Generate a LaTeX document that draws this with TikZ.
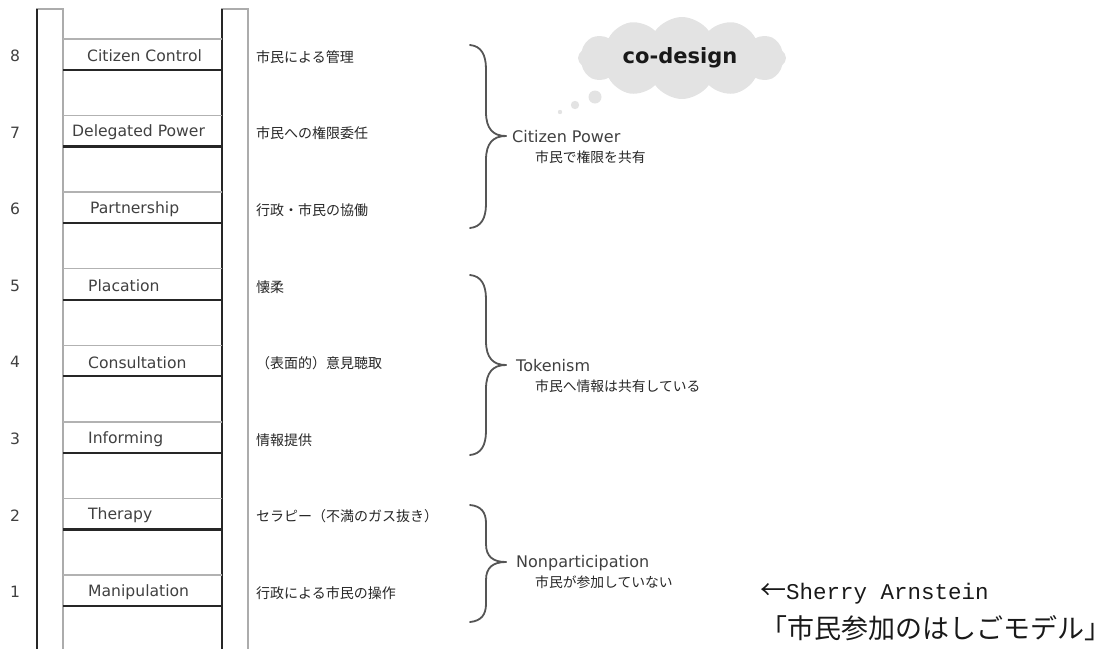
\documentclass[tikz,border=0pt]{standalone}
\usepackage{fontspec}
\setmainfont{DejaVu Sans}
\newfontfamily\jp{Noto Sans CJK JP}
\newfontfamily\monof{Liberation Mono}
\usetikzlibrary{shapes.symbols}
\definecolor{cloudgray}{HTML}{E3E3E3}
\definecolor{bracegray}{HTML}{555555}
\newcommand\ladderbrace[4]{%
  \draw[bracestyle] (470,#1) .. controls (481,{#1+1}) and (486,{#1+#4*0.4}) .. (486,{#1+#4})
    -- (486,{#2-#4}) .. controls (486,{#2-#4*0.3}) and (493,#2) .. (506,#2);
  \draw[bracestyle] (506,#2) .. controls (493,#2) and (486,{#2+#4*0.3}) .. (486,{#2+#4})
    -- (486,{#3-#4}) .. controls (486,{#3-#4*0.4}) and (481,{#3-1}) .. (470,#3);}
\begin{document}
\begin{tikzpicture}[x=1pt,y=-1pt,
  rail/.style={draw=gray!65, line width=1.3pt},
  darkrail/.style={draw=black!85, line width=2pt},
  rungtop/.style={draw=gray!60, line width=1.5pt},
  rungbot/.style={draw=black!85, line width=2.2pt},
  en/.style={font=\fontsize{15.6}{18}\selectfont, text=black!75, inner sep=0},
  ja/.style={font=\jp\fontsize{14}{16}\selectfont, text=black!85, anchor=west, inner sep=0},
  jasub/.style={font=\jp\fontsize{13.8}{15}\selectfont, text=black!85, anchor=west, inner sep=0},
  grp/.style={font=\fontsize{16}{18}\selectfont, text=black!75, anchor=west, inner sep=0},
  bracestyle/.style={draw=bracegray, line width=1.8pt, line cap=round}]
\useasboundingbox (0,0) rectangle (1117,649);
% rails
\draw[rail] (37,649) -- (37,9) -- (63,9) -- (63,649);
\draw[darkrail] (37,9) -- (37,649);
\draw[rail] (222,649) -- (222,9) -- (248,9) -- (248,649);
\draw[darkrail] (222,9) -- (222,649);
% rungs and labels
\foreach \k/\en/\ja/\xx in {8/Citizen Control/市民による管理/87,
  7/Delegated Power/市民への権限委任/72,
  6/Partnership/行政・市民の協働/90,
  5/Placation/懐柔/88,
  4/Consultation/（表面的）意見聴取/88,
  3/Informing/情報提供/88,
  2/Therapy/セラピー（不満のガス抜き）/88,
  1/Manipulation/行政による市民の操作/88}{
  \pgfmathsetmacro\yt{39+(8-\k)*76.57}
  \draw[rungtop] (63,\yt) -- (222,\yt);
  \draw[rungbot] (63,\yt+31) -- (222,\yt+31);
  \node[en] (num\k) at (15,\yt+17) {\k};
  \node[en, anchor=west] (en\k) at (\xx,\yt+17) {\en};
  \node[ja] (ja\k) at (256,\yt+18) {\ja};
}
% braces
\ladderbrace{45}{136}{228}{24}
\ladderbrace{275}{365}{455}{24}
\ladderbrace{505}{562}{622}{18}
\node[grp] (cp) at (512,137) {Citizen Power};
\node[jasub] (cpj) at (535,157) {市民で権限を共有};
\node[grp] (tk) at (516,366) {Tokenism};
\node[jasub] (tkj) at (535,386) {市民へ情報は共有している};
\node[grp] (np) at (516,563) {Nonparticipation};
\node[jasub] (npj) at (535,582) {市民が参加していない};
% cloud
\node[cloud, cloud puffs=12, cloud puff arc=110, aspect=2.6, fill=cloudgray, draw=none,
  minimum width=208pt, minimum height=82pt] (cloud) at (682,58) {};
\node[font=\bfseries\fontsize{21}{24}\selectfont, text=black!90, inner sep=0] (cd) at (680,58) {co-design};
\fill[cloudgray] (560,112) circle (2.2);
\fill[cloudgray] (575,105) circle (4.2);
\fill[cloudgray] (595,97) circle (6.5);
% source
\node[anchor=west, inner sep=0, text=black!90] (sa) at (760,594)
  {{\jp\fontsize{26}{30}\selectfont ←}{\monof\fontsize{22.5}{26}\selectfont Sherry Arnstein}};
\node[anchor=west, inner sep=0, text=black!90] (model) at (760,628)
  {\jp\fontsize{27}{30}\selectfont 「市民参加のはしごモデル」};
\end{tikzpicture}
\end{document}
